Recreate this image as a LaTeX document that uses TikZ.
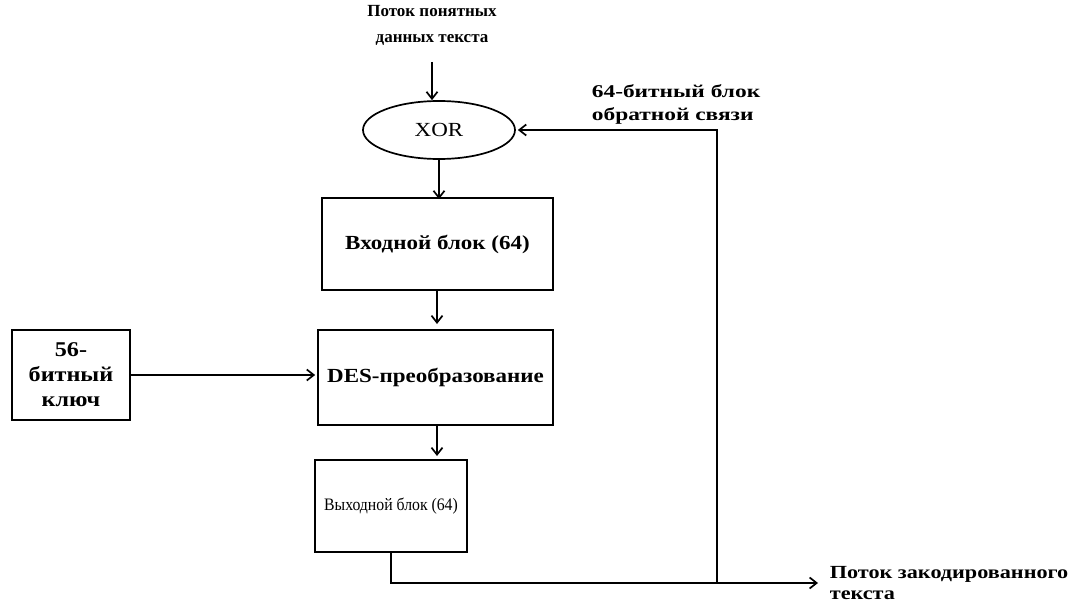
\documentclass[tikz,border=0pt]{standalone}
\usepackage{fontspec}
\setmainfont{Liberation Serif}
\newfontfamily\wideA{Liberation Serif}[FakeStretch=1.15]
\newfontfamily\wideB{Liberation Serif}[FakeStretch=1.3]
\newfontfamily\wideC{Liberation Serif}[FakeStretch=1.2]
\newfontfamily\narrowA{Liberation Serif}[FakeStretch=0.9]
\usetikzlibrary{arrows.meta,shapes.geometric}
\begin{document}
\begin{tikzpicture}[x=1pt,y=-1pt,
  line width=1.7pt,
  arr/.style={-{Straight Barb[length=7pt,width=11pt,line width=1.7pt]}},
  blk/.style={draw,rectangle,inner sep=0pt},
  lbl/.style={align=center,inner sep=0pt}]
\useasboundingbox (0,0) rectangle (1085,610);
\node[lbl,font=\bfseries\fontsize{17}{26}\selectfont] (in) at (432,25) {Поток понятных\\данных текста};
\coordinate (inA) at (432,62);
\node[draw,ellipse,minimum width=152pt,minimum height=58pt,inner sep=0pt,font=\wideA\fontsize{20}{24}\selectfont] (xor) at (439,130) {XOR};
\node[blk,minimum width=231pt,minimum height=92pt,font=\wideA\bfseries\fontsize{20}{24}\selectfont] (inb) at (437.5,244) {Входной блок (64)};
\node[blk,minimum width=235pt,minimum height=95pt,font=\wideA\bfseries\fontsize{20}{24}\selectfont] (des) at (435.5,377.5) {DES-преобразование};
\node[blk,minimum width=152pt,minimum height=92pt,font=\narrowA\fontsize{17.5}{20}\selectfont] (outb) at (391,506) {Выходной блок (64)};
\node[blk,minimum width=118pt,minimum height=90pt,align=center,font=\wideA\bfseries\fontsize{21}{25}\selectfont] (key) at (71,375) {56-\\битный\\ключ};
\node[lbl,font=\wideC\bfseries\fontsize{18.5}{21}\selectfont,align=left,anchor=west] (out) at (829,583) {Поток закодированного\\текста};
\node[lbl,font=\wideB\bfseries\fontsize{18}{23}\selectfont,align=left,anchor=west] (fb) at (591,104) {64-битный блок\\обратной связи};
\coordinate (bend1) at (391,583);
\coordinate (split) at (717,583);
\coordinate (up) at (717,130);
\coordinate (outend) at (818,583);
\draw[arr] (inA) -- (inA |- xor.north);
\draw[arr] (xor.south) -- ([yshift=-2pt]inb.north -| xor.south);
\draw[arr] (437,290) -- (437,324);
\draw[arr] (437,425) -- (437,456);
\draw[arr] (key.east) -- ([xshift=-2pt]des.west |- key.east);
\draw (outb.south) -- (bend1) -- (split);
\draw[arr] (split) -- (outend);
\draw[arr] (split) -- (up) -- ([xshift=2pt]xor.east);
\end{tikzpicture}
\end{document}
